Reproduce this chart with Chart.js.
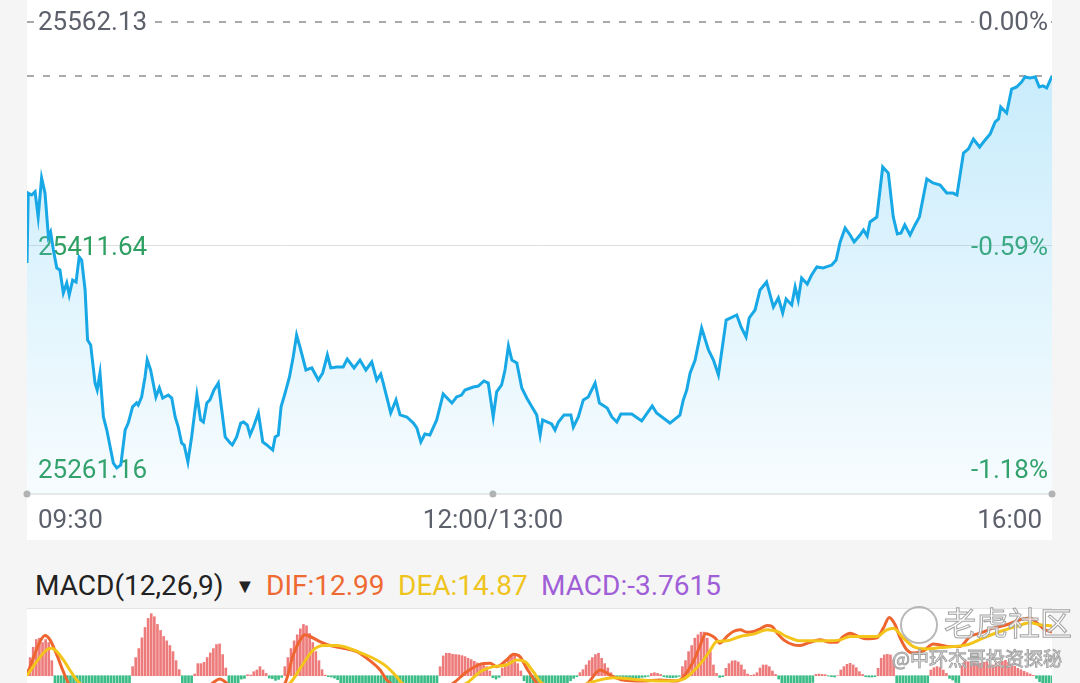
<!DOCTYPE html>
<html>
<head>
<meta charset="utf-8">
<script src="https://cdn.jsdelivr.net/npm/chart.js@4/dist/chart.umd.min.js"></script>
<style>
  html, body { margin: 0; padding: 0; }
  body { width: 1080px; height: 683px; overflow: hidden; background: #f5f5f6; position: relative; font-family: Roboto, "Noto Sans", sans-serif; }
  .panel { position: absolute; background: #fff; }
  canvas { position: absolute; left: 0; }
  .hd { position: absolute; top: 571px; font-size: 28px; line-height: 30px; white-space: nowrap; }
  .wm { position: absolute; color: rgba(255,255,255,0.75); -webkit-text-stroke: 1px #a3a3a3; font-family: "Noto Sans CJK SC", sans-serif; white-space: nowrap; }
</style>
</head>
<body>
<div class="panel" style="left:27px;top:0;width:1025px;height:540px"></div>
<canvas id="price" width="1080" height="540" style="top:0"></canvas>

<span class="hd" style="left:35px;color:#222">MACD(12,26,9)</span>
<span class="hd" style="left:235px;color:#222;font-size:20px">▼</span>
<span class="hd" style="left:266px;color:#ef6a32">DIF:12.99</span>
<span class="hd" style="left:398px;color:#efc41d">DEA:14.87</span>
<span class="hd" style="left:541px;color:#a05fd6">MACD:-3.7615</span>

<div class="panel" style="left:27px;top:608px;width:1025px;height:80px;border-top:1px solid #e4e4e4"></div>
<canvas id="macd" width="1080" height="151" style="top:609px"></canvas>

<div style="position:absolute;left:900px;top:606px;width:34px;height:34px;border:2px solid #a8a8a8;border-radius:50%;opacity:0.8"></div>
<div class="wm" style="left:944px;top:598px;font-size:32px">老虎社区</div>
<div class="wm" style="left:892px;top:644px;font-size:19px">@中环杰哥投资探秘</div>

<script>
// 昨收 / 最新价
const prevClose = 25562.13;
const lastPrice = 25525.7;

// 纵轴刻度
const tickValues = [25562.13, 25411.64, 25261.16];
const leftTicks = ['25562.13', '25411.64', '25261.16'];
const rightTicks = ['0.00%', '-0.59%', '-1.18%'];

// 横轴（开盘后分钟数，午休已去掉）
const timeTicks = [0, 150, 330];
const timeLabels = ['09:30', '12:00/13:00', '16:00'];

// 分时价格 [分钟, 价格]
const pricePoints = [
  [0, 25399.5], [0.4, 25446.7], [1.5, 25445.4], [2.6, 25447.6], [3.6, 25430.5], [4.7, 25456.9],
  [5.8, 25446.7], [6.9, 25417.0], [7.6, 25420.4], [8.5, 25408.3], [9.6, 25396.1], [10.6, 25394.8],
  [11.7, 25379.3], [12.8, 25386.0], [13.6, 25377.9], [14.7, 25388.0], [15.8, 25386.7], [16.8, 25403.6],
  [17.6, 25401.5], [18.7, 25381.3], [19.5, 25347.5], [20.5, 25344.2], [21.9, 25318.5], [22.6, 25313.8],
  [23.5, 25325.3], [24.6, 25295.6], [25.7, 25286.8], [27.8, 25264.5], [28.9, 25261.2], [30.2, 25263.2],
  [31.6, 25286.8], [32.6, 25291.5], [34.0, 25302.4], [35.3, 25305.1], [35.8, 25303.7], [36.9, 25309.1],
  [38.0, 25322.6], [38.7, 25334.1], [39.8, 25327.3], [41.5, 25309.1], [42.6, 25315.2], [43.7, 25308.4],
  [45.5, 25310.4], [46.6, 25308.4], [47.7, 25295.6], [48.7, 25288.8], [49.8, 25278.0], [50.6, 25276.7],
  [51.8, 25265.2], [53.0, 25282.1], [54.7, 25310.4], [55.9, 25293.6], [56.8, 25292.2], [57.9, 25305.0],
  [58.9, 25307.1], [60.2, 25313.8], [61.6, 25318.5], [62.7, 25300.3], [63.8, 25282.1], [65.4, 25278.0],
  [66.1, 25276.7], [67.5, 25282.1], [68.8, 25291.5], [69.7, 25292.2], [70.9, 25290.2], [71.8, 25283.4],
  [72.9, 25288.8], [74.5, 25298.3], [75.9, 25278.7], [77.2, 25276.7], [79.1, 25273.3], [79.9, 25282.1],
  [80.9, 25283.4], [81.8, 25302.4], [83.1, 25311.8], [84.5, 25322.6], [85.7, 25336.1], [86.8, 25350.9],
  [87.9, 25342.8], [89.8, 25327.3], [91.7, 25328.7], [93.8, 25320.5], [95.2, 25325.3], [96.7, 25337.4],
  [97.8, 25328.7], [99.7, 25329.3], [101.8, 25329.3], [103.1, 25334.7], [105.3, 25328.7], [107.2, 25334.0],
  [109.1, 25327.3], [111.0, 25332.7], [112.6, 25320.5], [113.9, 25324.6], [114.7, 25318.5], [117.1, 25298.3],
  [118.8, 25307.1], [120.1, 25297.0], [122.3, 25295.6], [124.4, 25291.5], [125.5, 25288.2], [126.8, 25278.7],
  [128.1, 25284.1], [129.7, 25283.4], [131.9, 25293.6], [134.0, 25311.1], [136.8, 25305.0], [138.3, 25309.1],
  [139.9, 25310.4], [141.0, 25313.8], [143.7, 25315.8], [145.3, 25316.5], [147.1, 25319.9], [148.5, 25318.5],
  [150.1, 25295.6], [151.2, 25312.5], [152.8, 25317.2], [153.9, 25327.3], [155.0, 25343.5], [156.1, 25334.0],
  [157.7, 25332.0], [159.3, 25315.2], [160.9, 25308.4], [162.2, 25303.7], [164.1, 25297.0], [165.2, 25283.4],
  [166.0, 25293.6], [168.9, 25290.9], [170.0, 25286.8], [171.1, 25292.2], [172.9, 25297.0], [175.1, 25297.0],
  [175.9, 25288.8], [177.5, 25295.6], [179.1, 25307.1], [180.7, 25309.1], [182.9, 25318.5], [184.3, 25305.0],
  [186.8, 25301.6], [188.3, 25295.6], [189.9, 25292.2], [191.2, 25297.6], [194.7, 25297.6], [197.9, 25292.9],
  [201.3, 25303.0], [202.7, 25298.3], [207.0, 25291.5], [210.2, 25296.9], [211.3, 25307.1], [212.4, 25313.8],
  [213.5, 25325.3], [215.1, 25334.0], [217.2, 25355.6], [219.4, 25340.8], [221.0, 25334.0], [222.6, 25323.9],
  [225.1, 25361.0], [228.5, 25364.4], [229.9, 25356.3], [231.5, 25349.6], [232.5, 25362.4], [234.4, 25367.8],
  [236.0, 25381.3], [238.1, 25386.7], [240.3, 25369.8], [241.9, 25375.9], [243.3, 25365.8], [244.4, 25375.2],
  [246.2, 25371.2], [247.3, 25383.3], [248.3, 25374.5], [249.4, 25389.4], [251.2, 25385.3], [252.6, 25391.4],
  [254.3, 25396.8], [256.3, 25396.1], [259.1, 25398.1], [260.5, 25401.5], [261.8, 25413.7], [263.4, 25423.1],
  [265.0, 25418.4], [266.3, 25413.7], [268.2, 25418.4], [269.3, 25421.8], [270.5, 25417.7], [271.4, 25427.2],
  [273.6, 25430.5], [275.5, 25464.3], [277.3, 25460.2], [278.9, 25430.5], [280.2, 25419.1], [281.4, 25419.8],
  [282.6, 25425.2], [284.3, 25418.4], [285.9, 25425.2], [287.3, 25430.5], [289.7, 25456.2], [291.7, 25453.5],
  [294.0, 25452.1], [296.1, 25446.7], [298.1, 25446.7], [299.4, 25445.4], [301.5, 25473.7], [303.1, 25476.5],
  [304.7, 25483.2], [306.7, 25477.8], [308.2, 25481.8], [310.1, 25486.6], [311.7, 25494.7], [312.8, 25496.7],
  [313.5, 25504.8], [315.4, 25500.7], [317.0, 25516.9], [318.6, 25518.3], [320.2, 25521.6], [321.3, 25525.0],
  [322.9, 25524.3], [324.6, 25525.0], [325.9, 25518.3], [327.1, 25519.0], [328.3, 25517.6], [330.0, 25525.7]
];

// MACD 柱：每段起始分钟 + 逐分钟数值
const histStarts = [0, 9, 34, 50, 55, 65, 73, 83, 99, 133, 153, 160, 178, 189, 211, 225, 242, 262, 274, 280, 291, 301, 324];
const histRuns = [
  [1.8, 5.4, 8.5, 10.8, 11.2, 9.9, 10.8, 9.9, 4.5],
  [-3, -6, -9, -12, -14, -15, -16, -16, -15, -14, -12, -10, -9, -8, -7, -6, -5, -5, -4.5, -4, -4, -3.5, -3.5, -3, -3],
  [2.7, 5.4, 8.1, 11.3, 14.4, 17.1, 18.5, 17.6, 15.3, 13.5, 11.7, 10.4, 9, 7.2, 4.5, 1.8],
  [-3, -4, -4, -3, 0.5],
  [3.6, 3.6, 4, 5.4, 6.8, 8.1, 9.3, 9.5, 6.3, 2.3],
  [-3, -3.5, -3, -2.5, -1, -0.8, 0.3, 0.2],
  [1.2, 1.7, 2.7, 1.7, 0.7, -0.7, -0.9, -1.4, -1.1, -0.5],
  [2.7, 5.4, 8.1, 10.4, 12.2, 14, 15.3, 14.9, 12.6, 9.9, 7.2, 4.5, 1.8, 0.2, -0.3, -0.4],
  [-0.7, -1.2, -2.5, -3, -3.5, -4, -4, -4.5, -4.5, -5, -5, -5, -5, -5, -5, -5, -4.5, -4.5, -4.5, -4.5, -4.5, -4.5, -4, -4, -4, -4, -4, -3.5, -3.5, -3.5, -3, -3, -2.5, -2.5],
  [2.7, 5.9, 6.7, 6.7, 6.4, 6.3, 6.2, 6, 5.7, 5.2, 4.8, 4.3, 3.8, 3.7, 3.4, 2.7, 1.4, -0.6, -1, -0.5],
  [2.3, 3.6, 5, 6.3, 5.9, 3.6, 1.4],
  [-1.5, -3, -3.5, -4, -4.5, -4.5, -4.5, -4.5, -4, -4, -3.5, -3.5, -3, -3, -2.5, -1.5, -0.8, -0.3],
  [0.9, 1.8, 3.2, 4.5, 5.4, 6.3, 6.7, 5.2, 3.6, 2.3, 0.9],
  [-0.4, -0.6, -0.8, -0.9, -1, -1, -0.9, -0.8, -0.7, -0.5, -0.4, -0.2, 0.7, 0.9, 0.7, 0.4, -0.3, -0.5, -0.6, -0.6, -0.5, -0.2],
  [2.7, 4.5, 7.2, 9, 11.2, 12.2, 13, 13, 11.2, 7.2, 3.2, 0.7, -0.5, -0.3],
  [2.2, 3.6, 4.4, 4.5, 4.1, 3.2, 1.8, 0.5, 0.1, 0.3, 0.9, 2.3, 3.2, 3.2, 2.7, 1.4, 0.4],
  [-1, -2.5, -3.5, -4, -4.5, -4.5, -4.5, -4, -4, -3.5, -3, -2, 0.4, 0.5, 0.4, 0.3, -0.1, -0.3, -0.4, 0],
  [1.7, 2.7, 3.4, 3.7, 3.2, 2.4, 1.2, 0.4, -0.3, -0.4, -0.4, -0.3],
  [2.2, 5.2, 6.2, 6.4, 6.2, 4.7],
  [-2.5, -5, -7, -8, -8, -7.5, -7, -6, -5, -4, -3],
  [1.7, 2.4, 2.7, 2.4, 1.7, 0.7, -0.8, -1.3, -2, -2.5],
  [3, 4.5, 4.2, 4, 3.8, 3.5, 3.7, 4, 4.2, 3.5, 3.2, 3.8, 4.2, 4.3, 4.6, 4, 3.5, 2.8, 2.2, 1.8, 1.3, 0.9, 0.5],
  [0.1, -0.8, -1.8, -2.6, -3.1, -3.5, -3.7615]
];

// DIF / DEA [分钟, 值]
const difPoints = [
  [0, 0.2], [2, 5.2], [4.2, 10.2], [5.8, 12], [7.4, 10.7], [9.6, 6.2], [11.7, 1.2], [13.3, -2.2], [16, -6],
  [20, -12], [25, -18], [30, -20], [35, -17], [40, -13], [45, -10], [50, -8], [55, -5], [58, -3.5], [60, -2],
  [62, -1], [64, -2], [66, -4], [70, -6], [75, -5], [80, -4], [83.1, -2.2], [85.7, 6.2], [88.4, 11.3],
  [89.5, 12.2], [91.1, 11.7], [94.3, 10.2], [97.6, 9], [101.8, 8.2], [106.2, 7.2], [110.4, 4.5], [113.7, 1.7],
  [115.8, -1.3], [120, -4], [125, -6], [130, -5], [134, -4], [137.3, -2.2], [141.6, 1.2], [145.9, 3.4],
  [149.1, 3.7], [151.2, 2.7], [154.4, 4.7], [156.6, 6.4], [158.7, 5.7], [160.9, 2.2], [164.1, -2.2], [168, -5],
  [172, -6], [176, -5], [180.6, -2.2], [184.5, 1.7], [187.7, 0.2], [191.9, -1.3], [198.3, -1.6], [203.8, -1.3],
  [209.3, -1.6], [211.3, -0.3], [214.5, 4.2], [216.5, 8.5], [218.5, 12.5], [219.9, 12.2], [221.5, 11.3],
  [223.1, 9.7], [225.3, 11.7], [227.4, 13.2], [229.6, 13.7], [231.8, 13], [234, 13.2], [236.1, 14], [238.3, 15],
  [239.9, 14.7], [241.5, 12.7], [243.6, 10.7], [246.8, 9.2], [248.9, 9], [252.1, 10], [255.3, 10.7], [258.5, 10],
  [260.7, 10], [262.8, 11.7], [265, 12.7], [267.7, 11.7], [270.3, 11], [273.6, 11.3], [275.7, 14.2], [277.6, 17.4],
  [279.5, 15.2], [281.1, 11.3], [283.3, 7.7], [285.4, 6.8], [288.6, 7.4], [291.8, 9.5], [294, 9.2], [297.2, 8.7],
  [300.4, 8.7], [303.6, 11.7], [306.8, 12.7], [311.1, 14.2], [315.4, 15.2], [319.7, 16.7], [322.9, 17.2],
  [325.1, 15.8], [327.8, 13.7], [330, 12.99]
];
const deaPoints = [
  [0, 0], [3.1, 4.2], [6.3, 7.7], [8, 8.2], [9.6, 7.2], [11.7, 4.7], [13.8, 1.7], [16, -1.3], [20, -5], [25, -10],
  [30, -14], [40, -14], [50, -10], [60, -7], [70, -5.5], [80, -4.5], [84.7, -2.2], [89, 3.7], [92.2, 7.7],
  [95.4, 9], [99.7, 9], [105.1, 7.7], [108, 6.6], [111.5, 5.2], [115.8, 2.7], [119, -0.3], [120.7, -2.2],
  [128, -4], [135, -4], [141.6, -2.2], [145.9, 1.2], [150.1, 2.7], [154.4, 3.2], [157.7, 4.7], [160.3, 4.2],
  [163, 1.2], [165.7, -2.2], [172, -3.5], [178, -3], [182.2, -1.8], [188.7, -0.6], [198.3, -1.3], [206.1, -1.6],
  [211.3, -1], [214.4, 1.2], [217.6, 4.5], [219.9, 7.5], [222.1, 10.2], [225.3, 10.4], [229.6, 11.7],
  [233.9, 12.4], [238.3, 13.7], [241.5, 13.2], [244.6, 11.7], [248.9, 10.4], [253.2, 10.4], [257.5, 10.4],
  [261.8, 10.7], [265, 11.7], [269.3, 11.7], [273.6, 11.7], [276.8, 13.7], [278.9, 14.2], [282.1, 11.3],
  [285.4, 8.7], [289.7, 8], [294, 8.4], [298.3, 8.7], [302.6, 9.2], [308, 11.3], [313.3, 13.2], [318.6, 14.7],
  [322.9, 15.8], [326.1, 15.2], [330, 14.87]
];

const GREEN = '#2f9f62';
const GREY = '#5d616c';

const toXY = (arr) => arr.map(p => ({ x: p[0], y: p[1] }));
const histData = [];
histRuns.forEach((run, i) => {
  run.forEach((v, j) => histData.push({ x: histStarts[i] + j, y: v }));
});

// 参考线、刻度文字
const guides = {
  id: 'guides',
  beforeDatasetsDraw(chart) {
    const { ctx, chartArea: a, scales: { x, y } } = chart;
    ctx.save();

    // 中间网格线
    const ym = y.getPixelForValue(tickValues[1]);
    ctx.strokeStyle = '#dedede';
    ctx.lineWidth = 1;
    ctx.beginPath();
    ctx.moveTo(a.left, Math.round(ym) + 0.5);
    ctx.lineTo(a.right, Math.round(ym) + 0.5);
    ctx.stroke();

    // 虚线：昨收、最新价
    ctx.strokeStyle = '#a9a9ad';
    ctx.lineWidth = 2;
    ctx.setLineDash([7, 9]);
    [prevClose, lastPrice].forEach(v => {
      const yy = Math.round(y.getPixelForValue(v));
      ctx.beginPath();
      ctx.moveTo(a.left, yy);
      ctx.lineTo(a.right, yy);
      ctx.stroke();
    });
    ctx.setLineDash([]);

    // 底部轴线和圆点
    ctx.strokeStyle = '#e2e2e2';
    ctx.lineWidth = 1.5;
    ctx.beginPath();
    ctx.moveTo(a.left, a.bottom);
    ctx.lineTo(a.right, a.bottom);
    ctx.stroke();
    ctx.fillStyle = '#b3b3b3';
    timeTicks.forEach(t => {
      ctx.beginPath();
      ctx.arc(x.getPixelForValue(t), a.bottom, 3.5, 0, Math.PI * 2);
      ctx.fill();
    });

    // 纵轴文字
    ctx.font = '26px Roboto';
    ctx.textBaseline = 'middle';
    tickValues.forEach((v, i) => {
      const yy = y.getPixelForValue(v) + (i === 0 ? 1 : 3);
      const color = i === 0 ? GREY : GREEN;
      const lw = ctx.measureText(leftTicks[i]).width;
      const rw = ctx.measureText(rightTicks[i]).width;
      if (i === 0) {
        ctx.fillStyle = '#fff';
        ctx.fillRect(a.left + 8, yy - 10, lw + 6, 20);
        ctx.fillRect(a.right - rw - 8, yy - 10, rw + 4, 20);
      }
      ctx.fillStyle = color;
      ctx.textAlign = 'left';
      ctx.fillText(leftTicks[i], a.left + 11, yy);
      ctx.textAlign = 'right';
      ctx.fillText(rightTicks[i], a.right - 4, yy);
    });

    // 横轴时间
    ctx.fillStyle = GREY;
    timeLabels.forEach((t, i) => {
      const xx = x.getPixelForValue(timeTicks[i]);
      ctx.textAlign = i === 0 ? 'left' : (i === timeLabels.length - 1 ? 'right' : 'center');
      const off = i === 0 ? 11 : (i === timeLabels.length - 1 ? -10 : 0);
      ctx.fillText(t, xx + off, a.bottom + 27);
    });
    ctx.restore();
  }
};

new Chart(document.getElementById('price'), {
  type: 'line',
  data: {
    datasets: [{
      data: toXY(pricePoints),
      borderColor: '#18a8e6',
      borderWidth: 3,
      pointRadius: 0,
      tension: 0,
      fill: 'start',
      backgroundColor: (c) => {
        const a = c.chart.chartArea;
        if (!a) return 'rgba(100,200,245,0.2)';
        const g = c.chart.ctx.createLinearGradient(0, 60, 0, a.bottom);
        g.addColorStop(0, 'rgba(100,200,245,0.36)');
        g.addColorStop(1, 'rgba(100,200,245,0.05)');
        return g;
      }
    }]
  },
  options: {
    responsive: false,
    animation: false,
    devicePixelRatio: 1,
    layout: { padding: { left: 27, right: 28, top: 0, bottom: 46 } },
    plugins: { legend: { display: false }, tooltip: { enabled: false } },
    scales: {
      x: { type: 'linear', min: 0, max: 330, display: false },
      y: { min: 25243.62, max: 25576.98, display: false }
    }
  },
  plugins: [guides]
});

new Chart(document.getElementById('macd'), {
  type: 'bar',
  data: {
    datasets: [
      {
        type: 'line',
        data: toXY(deaPoints),
        borderColor: '#f3c41a',
        borderWidth: 3,
        pointRadius: 0,
        cubicInterpolationMode: 'monotone',
        order: 1
      },
      {
        type: 'line',
        data: toXY(difPoints),
        borderColor: '#ee6530',
        borderWidth: 3,
        pointRadius: 0,
        cubicInterpolationMode: 'monotone',
        order: 2
      },
      {
        data: histData,
        backgroundColor: (c) => (c.raw && c.raw.y >= 0 ? '#ee7b7b' : '#3cbc86'),
        barThickness: 2,
        order: 3
      }
    ]
  },
  options: {
    responsive: false,
    animation: false,
    devicePixelRatio: 1,
    layout: { padding: { left: 27, right: 28, top: 0, bottom: 0 } },
    plugins: { legend: { display: false }, tooltip: { enabled: false } },
    scales: {
      x: { type: 'linear', min: 0, max: 330, display: false, offset: false },
      y: { min: -25.16, max: 19.91, display: false }
    }
  }
});
</script>
</body>
</html>
